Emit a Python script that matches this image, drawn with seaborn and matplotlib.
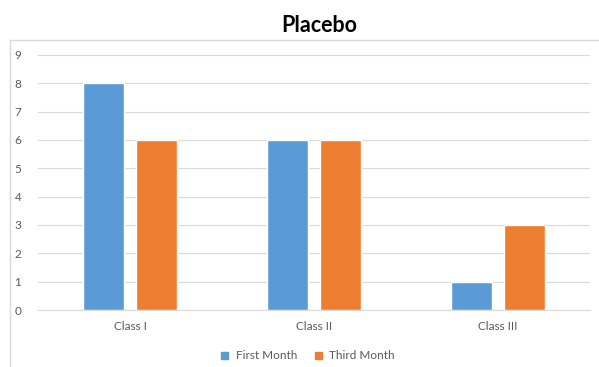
import pandas as pd
import matplotlib.pyplot as plt
import seaborn as sns
from matplotlib.lines import Line2D

classes = ['Class I', 'Class II', 'Class III']
first_month = [8, 6, 1]
third_month = [6, 6, 3]
series = ['First Month', 'Third Month']
colors = ['#5B9BD5', '#ED7D31']

df = pd.DataFrame({
    'cls': classes * 2,
    'value': first_month + third_month,
    'series': [series[0]] * 3 + [series[1]] * 3,
})

sns.set_theme(style='white')
plt.rcParams['font.family'] = ['Lato', 'DejaVu Sans']

fig = plt.figure(figsize=(5.99, 3.67), dpi=100)
ax = fig.add_axes([0.0634, 0.1553, 0.9216, 0.695])

sns.barplot(data=df, x='cls', y='value', hue='series', palette=colors,
            width=0.576, gap=0.21, ax=ax, legend=True, saturation=1)

ax.set_xlim(-0.5, 2.5)
ax.set_ylim(0, 9)
ax.set_yticks(range(0, 10))
ax.grid(axis='y', color='#D9D9D9', linewidth=0.8)
ax.set_axisbelow(True)
for s in ['top', 'right', 'left']:
    ax.spines[s].set_visible(False)
ax.spines['bottom'].set_color('#D9D9D9')
ax.spines['bottom'].set_linewidth(0.8)
ax.tick_params(axis='both', length=0, labelsize=8.5, labelcolor='#595959')
ax.tick_params(axis='y', pad=12)
ax.tick_params(axis='x', pad=8)
ax.set_xlabel('')
ax.set_ylabel('')

fig.suptitle('Placebo', x=0.533, y=0.96, fontsize=15.5, fontweight='bold', color='black')

handles = [plt.Rectangle((0, 0), 1, 1, color=c) for c in colors]
ax.legend(handles, series, loc='center', bbox_to_anchor=(0.489, -0.18),
          ncol=2, frameon=False, fontsize=8.5, labelcolor='#595959',
          handlelength=0.6, handleheight=0.6, handletextpad=0.6, columnspacing=1.5)

# chart frame edges
fig.add_artist(Line2D([10 / 599, 10 / 599], [0, 1 - 40 / 367], color='#D9D9D9', lw=1))
fig.add_artist(Line2D([10 / 599, 1], [1 - 40 / 367, 1 - 40 / 367], color='#D9D9D9', lw=1))

fig.savefig('out.png', dpi=100)
